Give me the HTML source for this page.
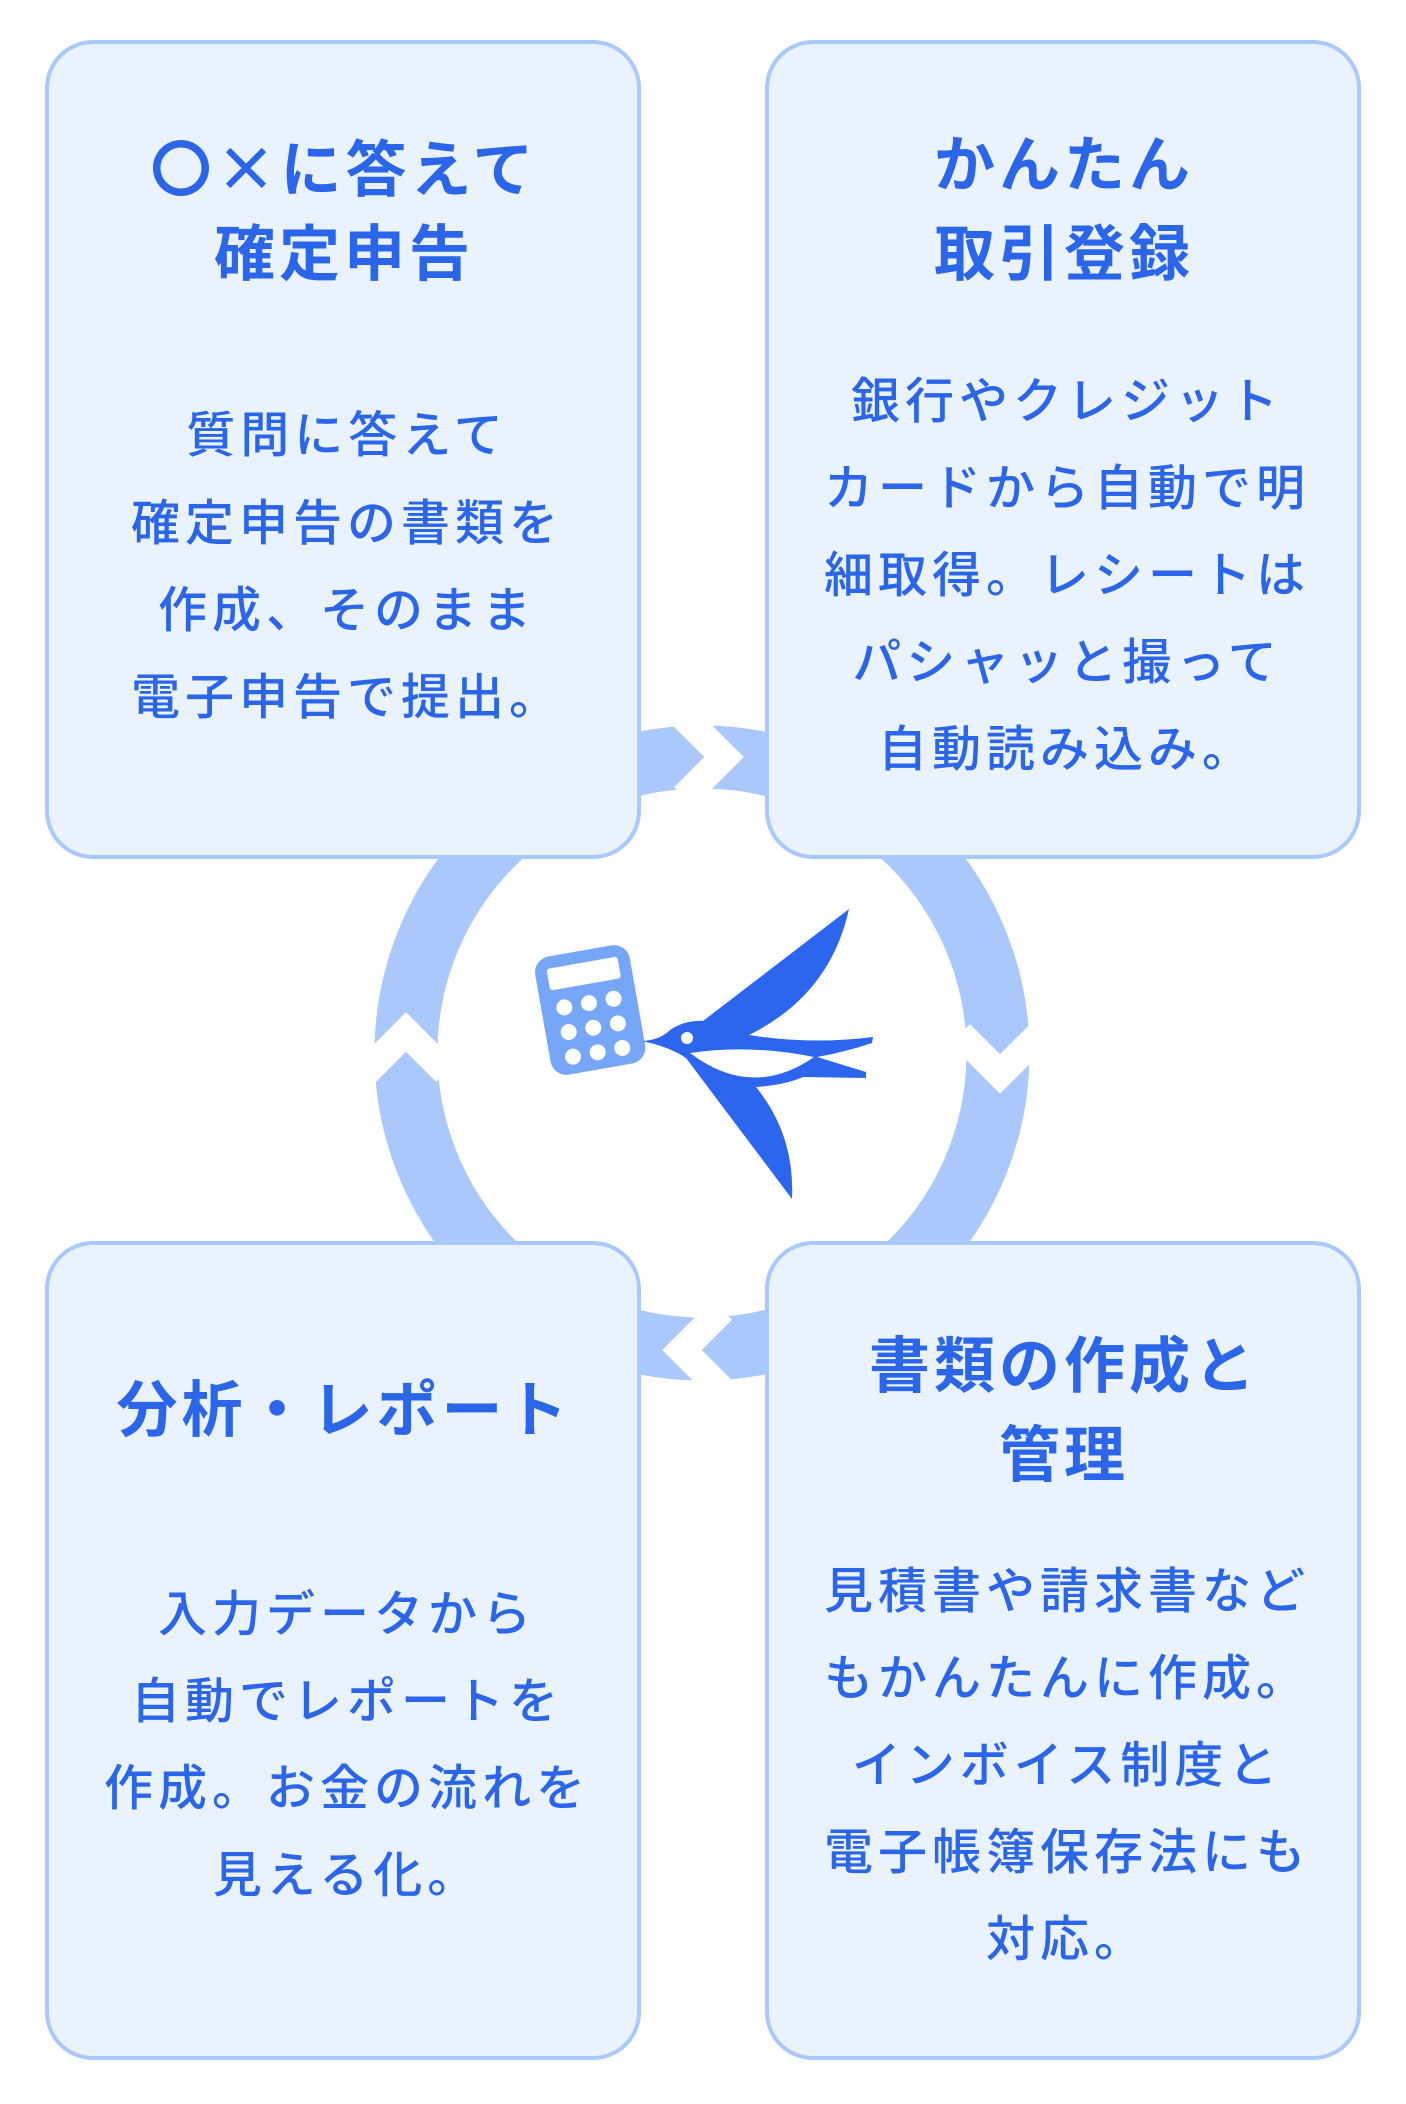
<!DOCTYPE html>
<html><head><meta charset="utf-8"><style>
html,body{margin:0;padding:0;background:#fff;}
body{width:1406px;height:2104px;position:relative;overflow:hidden;font-family:"Liberation Sans","Noto Sans CJK JP",sans-serif;}
.box{position:absolute;width:588px;height:811px;background:#eaf2fd;border:4px solid #a9c8fb;border-radius:48px;box-sizing:content-box;}
.t{position:absolute;left:0;width:1406px;height:80px;line-height:80px;text-align:center;color:#2b66ea;white-space:nowrap;}
.h{font-size:61px;font-weight:bold;letter-spacing:4px;}
.b{font-size:49px;letter-spacing:5px;font-weight:500;font-family:"Noto Sans CJK JP",sans-serif;margin-left:3px;}
.j{font-family:"Noto Sans CJK JP",sans-serif;}
</style></head><body>
<svg width="1406" height="2104" style="position:absolute;left:0;top:0">
<circle cx="702" cy="1053" r="296" fill="none" stroke="#aac8fc" stroke-width="63"/>
<g fill="none" stroke="#fff" stroke-width="28" stroke-linejoin="miter">
<polyline points="366,1072 406,1032 446,1072"/>
<polyline points="960,1034 1000,1074 1040,1034"/>
<polyline points="684,717 724,757 684,797"/>
<polyline points="722,1310 682,1350 722,1390"/>
</g>
</svg>
<div class="box" style="left:45px;top:40px"></div>
<div class="box" style="left:765px;top:40px"></div>
<div class="box" style="left:45px;top:1241px"></div>
<div class="box" style="left:765px;top:1241px"></div>

<svg width="1406" height="2104" style="position:absolute;left:0;top:0">
<g transform="rotate(-10 590 1009)">
<rect x="542" y="950" width="96" height="120" rx="16" fill="#76a6f8"/>
<rect x="554" y="962" width="72" height="22" rx="3" fill="#fff"/>
<g fill="#fff">
<circle cx="565" cy="1003" r="8"/><circle cx="590" cy="1003" r="8"/><circle cx="615" cy="1003" r="8"/>
<circle cx="565" cy="1028" r="8"/><circle cx="590" cy="1028" r="8"/><circle cx="615" cy="1028" r="8"/>
<circle cx="565" cy="1053" r="8"/><circle cx="590" cy="1053" r="8"/><circle cx="615" cy="1053" r="8"/>
</g></g>
<path fill="#2c66ee" d="M642,1041 Q660,1040 670,1030 Q685,1020 703,1021 L849,909 Q830,995 749,1035 Q810,1045 873,1037 L872,1043 Q845,1052 817,1057 L866,1072 L866,1078 L803,1077 Q785,1085 756,1087 Q795,1135 792,1199 L686,1058 Q670,1047 642,1041 Z"/>
<path fill="#fff" d="M690,1053 Q750,1044 814,1057 Q752,1100 690,1053 Z"/>
<circle cx="687" cy="1038" r="6" fill="#fff"/>
</svg>

<!-- TL -->
<div class="t h" style="left:-359px;top:125px"><span class="j">〇×</span>に答えて</div>
<div class="t h" style="left:-359px;top:214px">確定申告</div>
<div class="t b" style="left:-359px;top:392px">質問に答えて</div>
<div class="t b" style="left:-359px;top:480px">確定申告の書類を</div>
<div class="t b" style="left:-359px;top:567px">作成、そのまま</div>
<div class="t b" style="left:-359px;top:654px">電子申告で提出。</div>
<!-- TR -->
<div class="t h" style="left:361px;top:125px">かんたん</div>
<div class="t h" style="left:361px;top:214px">取引登録</div>
<div class="t b" style="left:361px;top:358px">銀行やクレジット</div>
<div class="t b" style="left:361px;top:445px">カードから自動で明</div>
<div class="t b" style="left:361px;top:532px">細取得。レシートは</div>
<div class="t b" style="left:361px;top:619px">パシャッと撮って</div>
<div class="t b" style="left:361px;top:706px">自動読み込み。</div>
<!-- BL -->
<div class="t h" style="left:-359px;top:1370px">分析・レポート</div>
<div class="t b" style="left:-359px;top:1571px">入力データから</div>
<div class="t b" style="left:-359px;top:1658px">自動でレポートを</div>
<div class="t b" style="left:-359px;top:1745px">作成。お金の流れを</div>
<div class="t b" style="left:-359px;top:1832px">見える化。</div>
<!-- BR -->
<div class="t h" style="left:361px;top:1326px">書類の作成と</div>
<div class="t h" style="left:361px;top:1415px">管理</div>
<div class="t b" style="left:361px;top:1548px">見積書や請求書など</div>
<div class="t b" style="left:361px;top:1635px">もかんたんに作成。</div>
<div class="t b" style="left:361px;top:1722px">インボイス制度と</div>
<div class="t b" style="left:361px;top:1809px">電子帳簿保存法にも</div>
<div class="t b" style="left:361px;top:1896px">対応。</div>
</body></html>
